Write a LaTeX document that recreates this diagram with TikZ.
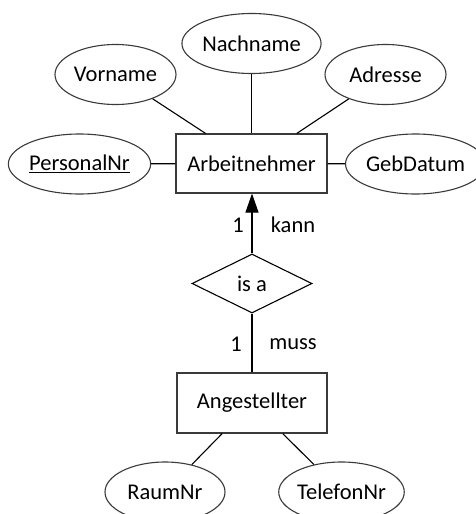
\documentclass[tikz,border=0pt]{standalone}
\usepackage{fontspec}
\setmainfont{Carlito}
\usetikzlibrary{shapes.geometric,arrows.meta}
\definecolor{edge}{HTML}{3A3A3A}
\begin{document}
\begin{tikzpicture}[x=1pt,y=-1pt,
  every node/.style={font=\fontsize{22.5}{27}\selectfont, text=black},
  attr/.style={ellipse, draw=edge, line width=1.1pt, minimum width=121pt, minimum height=60pt, inner sep=0pt},
  entity/.style={rectangle, draw=edge, line width=1.1pt, minimum width=151pt, minimum height=59pt, inner sep=0pt},
  rel/.style={diamond, draw=black, line width=1.1pt, minimum width=120pt, minimum height=59pt, inner sep=0pt},
  conn/.style={draw=black, line width=1.1pt},
  lbl/.style={inner sep=0pt}]
\useasboundingbox (0,0) rectangle (476,514);
\clip (0,0) rectangle (476,514);
\node[entity] (arb) at (251.5,163.5) {Arbeitnehmer};
\node[attr] (nach) at (251.5,43.5) {Nachname};
\node[attr] (vor) at (115.5,74.5) {Vorname};
\node[attr] (adr) at (385.5,74.5) {Adresse};
\node[attr, minimum width=129pt] (pnr) at (79.5,164) {\underline{PersonalNr}};
\node[attr, minimum width=119pt] (geb) at (415.5,164) {GebDatum};
\node[rel] (isa) at (252,283.5) {is a};
\node[entity, minimum width=150pt, minimum height=60pt] (ang) at (252,403) {Angestellter};
\node[attr, minimum width=120pt] (raum) at (165,492) {RaumNr};
\node[attr, minimum width=115pt] (tel) at (341.5,492) {TelefonNr};
\draw[conn] (vor) -- (arb);
\draw[conn] (nach) -- (arb);
\draw[conn] (adr) -- (arb);
\draw[conn] (pnr) -- (arb);
\draw[conn] (geb) -- (arb);
\draw[conn, -{Triangle[length=19pt,width=13pt]}] (isa.north) -- (isa.north |- arb.south);
\draw[conn] (isa) -- (isa.south |- ang.north);
\draw[conn] (ang) -- (raum);
\draw[conn] (ang) -- (tel);
\node[lbl] (k1) at (238,225) {1};
\node[lbl] (kann) at (293,225) {kann};
\node[lbl] (m1) at (236,344) {1};
\node[lbl] (muss) at (293,344) {muss};
\end{tikzpicture}
\end{document}
